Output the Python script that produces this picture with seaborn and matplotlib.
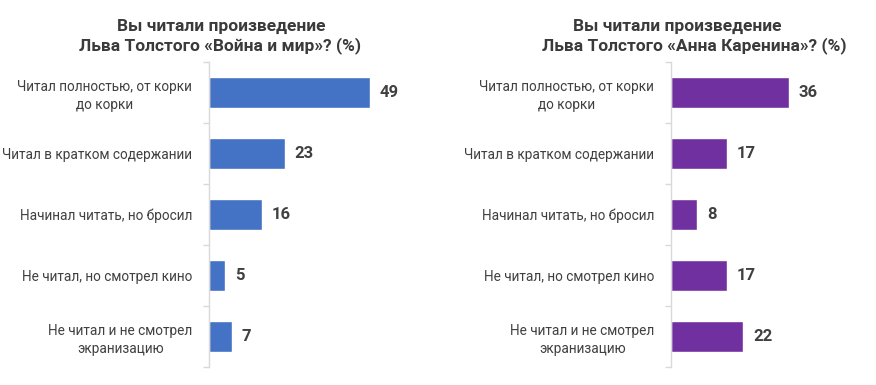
import matplotlib
matplotlib.use("Agg")
import matplotlib.pyplot as plt
import seaborn as sns
import pandas as pd

# ответы на вопрос
otvety = ["Читал полностью, от корки\nдо корки",
          "Читал в кратком содержании",
          "Начинал читать, но бросил",
          "Не читал, но смотрел кино",
          "Не читал и не смотрел\nэкранизацию"]
voina_i_mir = [49, 23, 16, 5, 7]
anna_karenina = [36, 17, 8, 17, 22]

titulo_1 = ["Вы читали произведение", "Льва Толстого «Война и мир»? (%)"]
titulo_2 = ["Вы читали произведение", "Льва Толстого «Анна Каренина»? (%)"]

azul = "#4472C4"
morado = "#7030A0"

sns.set_theme(style="white")
plt.rcParams['font.family'] = ['Roboto', 'DejaVu Sans']

fig = plt.figure(figsize=(8.76, 3.85), dpi=100)
W, H = 876, 385


def grafico(ax, valores, color):
    df = pd.DataFrame({"otvet": otvety, "valor": valores})
    sns.barplot(data=df, x="valor", y="otvet", color=color, width=0.52,
                saturation=1, ax=ax)
    ax.set_xlim(0, 60)
    ax.set_ylim(4.5, -0.5)
    ax.set_xlabel("")
    ax.set_ylabel("")
    ax.set_xticks([])
    for s in ["top", "right", "bottom"]:
        ax.spines[s].set_visible(False)
    ax.spines["left"].set_color("#d9d9d9")
    ax.spines["left"].set_linewidth(1)
    ax.set_yticks([-0.5, 0.5, 1.5, 2.5, 3.5, 4.5], minor=True)
    ax.tick_params(axis="y", which="major", length=0, pad=12,
                   labelsize=9.8, labelcolor="#404040")
    ax.tick_params(axis="y", which="minor", length=4, width=1,
                   color="#d9d9d9", left=True)
    for lab in ax.get_yticklabels():
        lab.set_multialignment("center")
        lab.set_linespacing(1.35)
    ax.bar_label(ax.containers[0], padding=7, fontsize=12,
                 fontweight="bold", color="#404040")


ax1 = fig.add_axes([209 / W, 18 / H, 197 / W, 305 / H])
grafico(ax1, voina_i_mir, azul)
ax2 = fig.add_axes([671 / W, 18 / H, 197 / W, 305 / H])
grafico(ax2, anna_karenina, morado)

# titulos
for xc, lineas in [(221, titulo_1), (677, titulo_2)]:
    fig.text(xc / W, 1 - 26 / H, lineas[0], ha="center", va="center",
             fontsize=12.5, fontweight="bold", color="#3a3a3a")
for xc, lineas in [(220, titulo_1), (694, titulo_2)]:
    fig.text(xc / W, 1 - 46 / H, lineas[1], ha="center", va="center",
             fontsize=12.5, fontweight="bold", color="#3a3a3a")

fig.savefig("out.png", dpi=100, facecolor="white")
